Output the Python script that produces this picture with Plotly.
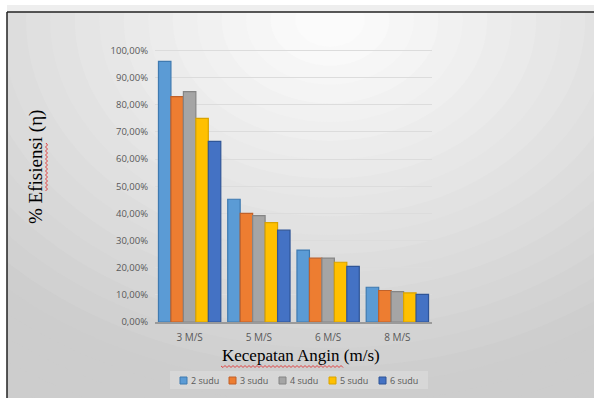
import plotly.graph_objects as go

categories = ["3 M/S", "5 M/S", "6 M/S", "8 M/S"]
series_names = ["2 sudu", "3 sudu", "4 sudu", "5 sudu", "6 sudu"]
sudu2 = [0.96, 0.452, 0.265, 0.128]
sudu3 = [0.830, 0.400, 0.235, 0.116]
sudu4 = [0.848, 0.392, 0.235, 0.112]
sudu5 = [0.750, 0.366, 0.220, 0.107]
sudu6 = [0.665, 0.338, 0.205, 0.102]
tick_vals = [0, 0.1, 0.2, 0.3, 0.4, 0.5, 0.6, 0.7, 0.8, 0.9, 1.0]
tick_text = ["0,00%", "10,00%", "20,00%", "30,00%", "40,00%", "50,00%",
             "60,00%", "70,00%", "80,00%", "90,00%", "100,00%"]

colors = ["#5B9BD5", "#ED7D31", "#A5A5A5", "#FFC000", "#4472C4"]
edges = ["#3F7AB0", "#C0612A", "#858585", "#D9A300", "#2F5597"]

W, H = 594, 398
L, R, T, B = 155, 162, 45, 76
PW, PH = W - L - R, H - T - B


def px(x):
    return (x - L) / PW


def py(y):
    return (H - B - y) / PH


fig = go.Figure()
for name, vals, c, e in zip(series_names, [sudu2, sudu3, sudu4, sudu5, sudu6], colors, edges):
    fig.add_trace(go.Bar(x=categories, y=vals, name=name, showlegend=False,
                         marker=dict(color=c, line=dict(color=e, width=1.2))))

shapes = []
# radial gradient background
n = 34
cx, cy = 330, 20
rmax = 640
for i in range(n):
    r = rmax * (1 - i / n) + 8
    g = max(205, int(round(255 - 52 * (r / 390))))
    col = f"rgb({g},{g},{g})"
    shapes.append(dict(type="circle", xref="paper", yref="paper", layer="below",
                       x0=px(cx - r * 1.3), x1=px(cx + r * 1.3),
                       y0=py(cy + r), y1=py(cy - r),
                       fillcolor=col, line=dict(width=0)))
# outside-frame area
shapes.append(dict(type="rect", xref="paper", yref="paper", layer="below",
                   x0=px(-5), x1=px(W + 5), y0=py(12), y1=py(-5),
                   fillcolor="#ffffff", line=dict(width=0)))
shapes.append(dict(type="rect", xref="paper", yref="paper", layer="below",
                   x0=px(-5), x1=px(7), y0=py(H + 5), y1=py(-5),
                   fillcolor="#ffffff", line=dict(width=0)))
shapes.append(dict(type="rect", xref="paper", yref="paper", layer="below",
                   x0=px(7), x1=px(W + 5), y0=py(12), y1=py(5),
                   fillcolor="#eeeeee", line=dict(width=0)))
# frame (top and left edges)
shapes.append(dict(type="line", xref="paper", yref="paper",
                   x0=px(7), x1=px(W + 5), y0=py(12), y1=py(12),
                   line=dict(color="#222222", width=1.5)))
shapes.append(dict(type="line", xref="paper", yref="paper",
                   x0=px(7), x1=px(7), y0=py(12), y1=py(H + 5),
                   line=dict(color="#222222", width=1.5)))

# legend box (drawn manually for Excel-like compact spacing)
shapes.append(dict(type="rect", xref="paper", yref="paper",
                   x0=px(170), x1=px(428), y0=py(389), y1=py(371),
                   fillcolor="rgba(218,218,218,0.75)", line=dict(width=0)))
annotations = []
leg_x = [180, 229, 279, 329, 379]
for xx, name, c, e in zip(leg_x, series_names, colors, edges):
    shapes.append(dict(type="rect", xref="paper", yref="paper",
                       x0=px(xx), x1=px(xx + 7), y0=py(384), y1=py(377),
                       fillcolor=c, line=dict(color=e, width=1)))
    annotations.append(dict(text=name, xref="paper", yref="paper", x=px(xx + 9), y=py(380.5),
                            xanchor="left", yanchor="middle", showarrow=False,
                            font=dict(family="Open Sans", size=9, color="#595959")))


# red spell-check squiggles
def squiggle_h(x0, x1, y):
    d = f"M {px(x0)} {py(y)}"
    x = x0
    k = 0
    while x < x1:
        x += 2
        k += 1
        d += f" L {px(x)} {py(y + (1.5 if k % 2 else -0.5))}"
    return d


def squiggle_v(x, y0, y1):
    d = f"M {px(x)} {py(y0)}"
    y = y0
    k = 0
    while y < y1:
        y += 2
        k += 1
        d += f" L {px(x + (1.5 if k % 2 else -0.5))} {py(y)}"
    return d


shapes.append(dict(type="path", xref="paper", yref="paper", path=squiggle_h(221, 342, 366),
                   line=dict(color="#e04040", width=1)))
shapes.append(dict(type="path", xref="paper", yref="paper", path=squiggle_v(46, 143, 190),
                   line=dict(color="#e04040", width=1)))

annotations += [
    dict(text="% Efisiensi (η)", xref="paper", yref="paper", x=px(36), y=py(167),
         xanchor="center", yanchor="middle",
         showarrow=False, textangle=-90, font=dict(family="Liberation Serif", size=19, color="#000000")),
    dict(text="Kecepatan Angin (m/s)", xref="paper", yref="paper", x=px(301), y=py(355),
         xanchor="center", yanchor="middle",
         showarrow=False, font=dict(family="Liberation Serif", size=17, color="#000000")),
]

fig.update_layout(
    width=W, height=H,
    margin=dict(l=L, r=R, t=T, b=B, autoexpand=False),
    paper_bgcolor="#ffffff",
    plot_bgcolor="rgba(0,0,0,0)",
    barmode="group", bargap=0.1, bargroupgap=0,
    shapes=shapes,
    annotations=annotations,
    showlegend=False,
    font=dict(family="Open Sans", size=9, color="#595959"),
    xaxis=dict(showgrid=False, showline=True, linecolor="#9a9a9a", linewidth=2,
               ticks="", ticklabelstandoff=5, tickfont=dict(size=10, color="#595959"),
               fixedrange=True),
    yaxis=dict(range=[0, 1.02], tickvals=tick_vals, ticktext=tick_text, showgrid=True,
               gridcolor="#dcdcdc", gridwidth=1, zeroline=False, showline=False,
               ticks="", ticklabelstandoff=6, tickfont=dict(size=9.5, color="#595959")),
)

fig.write_html("out.html", config={"displayModeBar": False})
